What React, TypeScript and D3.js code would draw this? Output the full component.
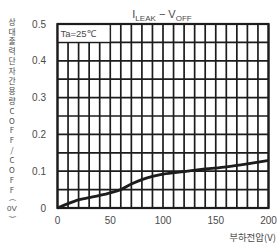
import React, { useEffect, useRef } from 'react';
import * as d3 from 'd3';

// load voltage (V) vs relative output capacitance
const voltage = [0, 10, 20, 30, 40, 50, 60, 70, 80, 90, 100, 120, 140, 160, 180, 200];
const capRatio = [0, 0.012, 0.022, 0.028, 0.034, 0.041, 0.05, 0.065, 0.077, 0.086, 0.092, 0.099, 0.106, 0.112, 0.12, 0.129];
const xTicks = [0, 50, 100, 150, 200];
const yTicks = [0, 0.1, 0.2, 0.3, 0.4, 0.5];
const yLabelGlyphs = ['상', '대', '출', '력', '단', '자', '간', '용', '량', 'C', 'O', 'F', 'F', '/', 'C', 'O', 'F', 'F'];

const App = () => {
  const ref = useRef<SVGSVGElement>(null);

  useEffect(() => {
    const svg = d3.select(ref.current);
    svg.selectAll('*').remove();

    const width = 277, height = 246;
    const left = 57.5, right = 268.5, top = 24, bottom = 208;
    const ink = '#1c1c1c';
    const grey = '#4a4a4a';
    const font = '"Liberation Sans", Arial, sans-serif';
    const krFont = '"Noto Sans CJK KR", sans-serif';

    const x = d3.scaleLinear().domain([0, 200]).range([left, right]);
    const y = d3.scaleLinear().domain([0, 0.5]).range([bottom, top]);

    svg.append('rect').attr('width', width).attr('height', height).attr('fill', '#fff');

    // grid
    const grid = svg.append('g').attr('stroke', ink).attr('stroke-width', 1.7);
    grid.selectAll('line.v')
      .data(d3.range(0, 201, 10))
      .join('line')
        .attr('class', 'v')
        .attr('x1', d => x(d)).attr('x2', d => x(d))
        .attr('y1', top).attr('y2', bottom);
    grid.selectAll('line.h')
      .data(d3.range(0, 11).map(i => i * 0.05))
      .join('line')
        .attr('class', 'h')
        .attr('x1', left).attr('x2', right)
        .attr('y1', d => y(d)).attr('y2', d => y(d));

    // Ta box covers the grid
    svg.append('rect')
      .attr('x', x(0)).attr('y', y(0.5))
      .attr('width', x(50) - x(0)).attr('height', y(0.45) - y(0.5))
      .attr('fill', '#fff').attr('stroke', ink).attr('stroke-width', 1.2);
    svg.append('text')
      .attr('x', x(0) + 3).attr('y', (y(0.5) + y(0.45)) / 2)
      .attr('dy', '0.35em')
      .attr('font-family', font).attr('font-size', 9.5).attr('fill', grey)
      .text('Ta=25℃');

    svg.append('rect')
      .attr('x', left).attr('y', top)
      .attr('width', right - left).attr('height', bottom - top)
      .attr('fill', 'none').attr('stroke', ink).attr('stroke-width', 2.2);

    // curve
    const line = d3.line<number>()
      .x((d, i) => x(voltage[i]))
      .y(d => y(d))
      .curve(d3.curveMonotoneX);
    svg.append('path')
      .datum(capRatio)
      .attr('d', line)
      .attr('fill', 'none')
      .attr('stroke', ink)
      .attr('stroke-width', 2.8);

    // tick labels
    svg.append('g')
      .selectAll('text')
      .data(yTicks)
      .join('text')
        .attr('x', 46).attr('y', d => y(d))
        .attr('dy', '0.35em')
        .attr('text-anchor', 'end')
        .attr('font-family', font).attr('font-size', 10).attr('fill', grey)
        .text(d => (d === 0 ? '0' : d.toFixed(1)));

    svg.append('g')
      .selectAll('text')
      .data(xTicks)
      .join('text')
        .attr('x', d => x(d)).attr('y', 220)
        .attr('dy', '0.35em')
        .attr('text-anchor', 'middle')
        .attr('font-family', font).attr('font-size', 10).attr('fill', grey)
        .text(d => d);

    // title
    const title = svg.append('text')
      .attr('x', 162).attr('y', 18)
      .attr('text-anchor', 'middle')
      .attr('font-family', font).attr('font-size', 11).attr('fill', grey);
    title.append('tspan').text('I');
    title.append('tspan').attr('font-size', 8).attr('dy', 2.5).text('LEAK');
    title.append('tspan').attr('dy', -2.5).text(' − V');
    title.append('tspan').attr('font-size', 8).attr('dy', 2.5).text('OFF');

    // x axis title
    svg.append('text')
      .attr('x', 276).attr('y', 238)
      .attr('dy', '0.35em')
      .attr('text-anchor', 'end')
      .attr('font-family', krFont).attr('font-size', 9.5).attr('fill', grey)
      .text('부하전압(V)');

    // y axis title, stacked vertically
    const ylab = svg.append('g')
      .attr('font-family', krFont).attr('font-size', 7.8).attr('fill', grey)
      .attr('text-anchor', 'middle');
    const step = (190 - 22) / (yLabelGlyphs.length - 1);
    ylab.selectAll('text.g')
      .data(yLabelGlyphs)
      .join('text')
        .attr('class', 'g')
        .attr('x', 12).attr('y', (d, i) => 22 + i * step)
        .attr('dy', '0.35em')
        .text(d => d);
    [['(', 200], [')', 217]].forEach(([c, py]) => {
      ylab.append('text')
        .attr('transform', `translate(12,${py}) rotate(90)`)
        .attr('dy', '0.35em')
        .attr('font-size', 7)
        .text(c as string);
    });
    ylab.append('text')
      .attr('x', 12).attr('y', 208.5)
      .attr('dy', '0.35em')
      .attr('font-family', font)
      .attr('font-size', 8)
      .text('0V');
  }, []);

  return (
    <svg ref={ref} width={277} height={246} style={{ position: 'absolute', left: 0, top: 0 }}></svg>
  );
};

export default App;
